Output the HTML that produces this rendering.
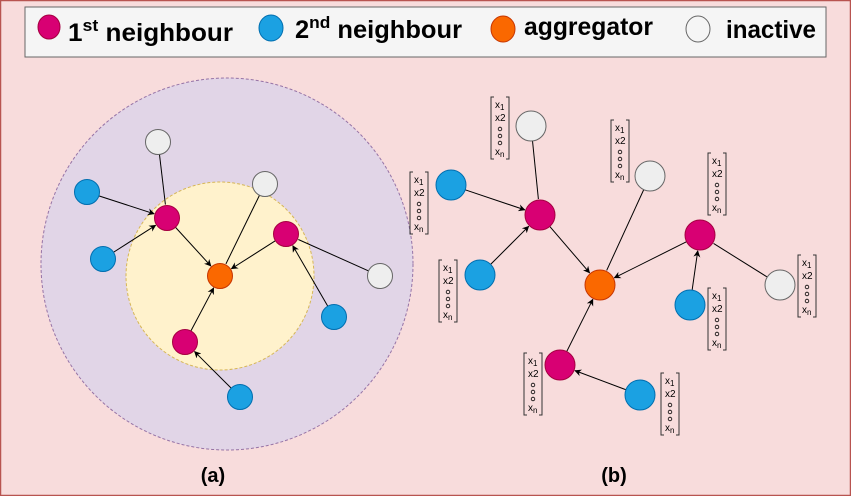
<!DOCTYPE html>
<html><head><meta charset="utf-8">
<style>
html,body{margin:0;padding:0;background:#f8dcdc;}
svg{display:block;font-family:"Liberation Sans",sans-serif;}
</style></head>
<body>
<svg id="fig" width="851" height="496" viewBox="0 0 851 496" xmlns="http://www.w3.org/2000/svg">
<defs>
<marker id="arr" viewBox="0 0 10 10" refX="9" refY="5" markerWidth="7" markerHeight="7" orient="auto-start-reverse">
<path d="M0,0 L10,5 L0,10 L3,5 z" fill="#000"/>
</marker>
</defs>
<rect x="0.5" y="0.5" width="850" height="495" fill="#f8dcdc" stroke="#b85450" stroke-width="1.5"/>
<g>
<rect x="25" y="7" width="801" height="50" fill="#f5f5f5" stroke="#666"/>
<g>
<ellipse cx="49" cy="27" rx="11" ry="12" fill="#d80073" stroke="#a50040"/>
<text x="68" y="41" font-size="25" font-weight="bold" textLength="165" lengthAdjust="spacingAndGlyphs">1<tspan font-size="17" dy="-10">st</tspan><tspan dy="10"> neighbour</tspan></text>
</g>
<g>
<ellipse cx="271" cy="28" rx="12" ry="13" fill="#1ba1e2" stroke="#006eaf"/>
<text x="295" y="38" font-size="25" font-weight="bold" textLength="167" lengthAdjust="spacingAndGlyphs">2<tspan font-size="17" dy="-10">nd</tspan><tspan dy="10"> neighbour</tspan></text>
</g>
<g>
<ellipse cx="503" cy="29" rx="12" ry="13" fill="#fa6800" stroke="#c73500"/>
<text x="524" y="35" font-size="25" font-weight="bold" textLength="129" lengthAdjust="spacingAndGlyphs">aggregator</text>
</g>
<g>
<ellipse cx="698" cy="29" rx="12" ry="13" fill="#f5f5f5" stroke="#666"/>
<text x="726" y="38" font-size="25" font-weight="bold" textLength="90" lengthAdjust="spacingAndGlyphs">inactive</text>
</g>
</g>
<circle cx="227" cy="264" r="186" fill="#e1d5e7" stroke="#9673a6" stroke-dasharray="3,2"/>
<circle cx="220" cy="276" r="94" fill="#fff2cc" stroke="#d6b656" stroke-dasharray="3,2"/>
<g id="edges"></g>
<g id="nodes"></g>
<g id="vecs"></g>
<text x="213" y="482" font-size="20" font-weight="bold" text-anchor="middle">(a)</text>
<text x="614" y="482" font-size="20" font-weight="bold" text-anchor="middle">(b)</text>
</svg>
<script>
const NS="http://www.w3.org/2000/svg";
const colors={agg:["#fa6800","#c73500"],n1:["#d80073","#a50040"],n2:["#1ba1e2","#006eaf"],in:["#eeeeee","#666"]};
const nodesA=[["a0","agg",220,276],["a1","n1",167,218],["a2","n1",286,234],["a3","n1",185,342],
["a4","n2",87,192],["a5","n2",103,259],["a6","n2",334,317],["a7","n2",240,397],
["a8","in",158,142],["a9","in",265,184],["a10","in",380,276]];
const nodesB=[["b0","agg",600,285],["b1","n1",540,215],["b2","n1",700,235],["b3","n1",560,365],
["b4","n2",451,185],["b5","n2",480,275],["b6","n2",690,305],["b7","n2",640,395],
["b8","in",531,126],["b9","in",650,176],["b10","in",780,285]];
const edgesRel=[["4","1",1],["5","1",1],["8","1",0],["1","0",1],["9","0",0],["2","0",1],["10","2",0],["6","2",1],["3","0",1],["7","3",1]];
const vecs=[[410,172],[491,97],[611,120],[708,153],[439,260],[798,255],[708,288],[524,353],[661,373]];
const edgesG=document.getElementById('edges'),nodesG=document.getElementById('nodes'),vecG=document.getElementById('vecs');
function draw(nodes,p,r){
  const m={};nodes.forEach(n=>m[n[0]]=n);
  edgesRel.forEach(e=>{
    const a=m[p+e[0]],b=m[p+e[1]];
    const dx=b[2]-a[2],dy=b[3]-a[3],d=Math.hypot(dx,dy);
    const l=document.createElementNS(NS,'line');
    
    
    l.setAttribute('x1',a[2]+dx/d*r);l.setAttribute('y1',a[3]+dy/d*r);
    l.setAttribute('x2',b[2]-dx/d*(r+1));l.setAttribute('y2',b[3]-dy/d*(r+1));
    l.setAttribute('stroke','#000');l.setAttribute('stroke-width','1');
    if(e[2])l.setAttribute('marker-end','url(#arr)');
    edgesG.appendChild(l);
  });
  nodes.forEach(n=>{
    const c=document.createElementNS(NS,'circle');
    
    
    c.setAttribute('cx',n[2]);c.setAttribute('cy',n[3]);c.setAttribute('r',r);
    c.setAttribute('fill',colors[n[1]][0]);c.setAttribute('stroke',colors[n[1]][1]);
    nodesG.appendChild(c);
  });
}
draw(nodesA,'a',12.5);
draw(nodesB,'b',15);
vecs.forEach((v,i)=>{
  const g=document.createElementNS(NS,'g');
  
  
  const x=v[0],y=v[1],w=18,h=62;
  g.innerHTML=`<path d="M${x+3},${y} h-3 v${h} h3 M${x+w-3},${y} h3 v${h} h-3" fill="none" stroke="#333" stroke-width="1"/>
<text x="${x+4}" y="${y+11}" font-size="10">x<tspan font-size="8" dy="2">1</tspan></text>
<text x="${x+4}" y="${y+24}" font-size="10">x2</text>
<circle cx="${x+9}" cy="${y+32}" r="1.8" fill="none" stroke="#000" stroke-width="0.8"/>
<circle cx="${x+9}" cy="${y+39}" r="1.8" fill="none" stroke="#000" stroke-width="0.8"/>
<circle cx="${x+9}" cy="${y+46}" r="1.8" fill="none" stroke="#000" stroke-width="0.8"/>
<text x="${x+4}" y="${y+58}" font-size="10">x<tspan font-size="8" dy="2">n</tspan></text>`;
  vecG.appendChild(g);
});
</script>
</body></html>
